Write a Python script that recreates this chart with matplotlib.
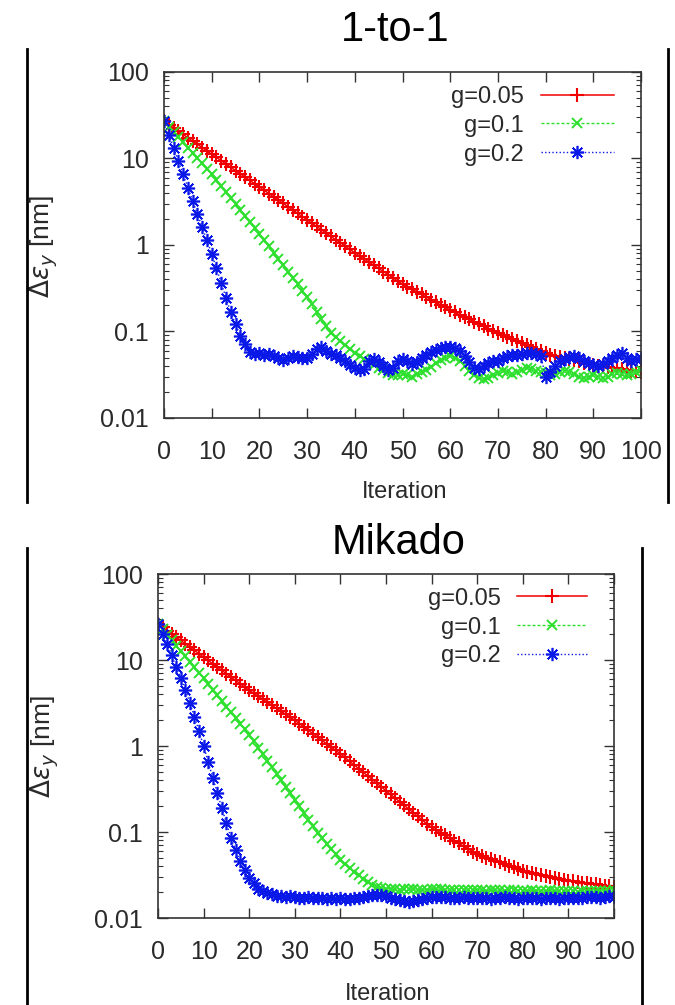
import numpy as np
import matplotlib
matplotlib.use("Agg")
import matplotlib.pyplot as plt
from matplotlib.lines import Line2D
from matplotlib.ticker import FixedLocator, FixedFormatter, LogLocator, NullFormatter

plt.rcParams['font.family'] = ['Liberation Sans', 'DejaVu Sans']
plt.rcParams['mathtext.fontset'] = 'dejavusans'

RED = "#f00000"
GREEN = "#2ee02e"
BLUE = "#0a18e8"
TICK_COL = "#2a2a2a"

# ---- data ----
ITER = list(range(101))
GAINS = ["g=0.05", "g=0.1", "g=0.2"]
X_TICKS = [0, 10, 20, 30, 40, 50, 60, 70, 80, 90, 100]
Y_TICKS = [0.01, 0.1, 1, 10, 100]
Y_TICK_LABELS = ["0.01", "0.1", "1", "10", "100"]

# 1-to-1 panel
one_g005 = [26.9, 24.6, 22.6, 20.7, 19.0, 17.4, 15.9, 14.6, 13.4, 12.2,
            11.2, 10.3, 9.42, 8.63, 7.91, 7.25, 6.64, 6.08, 5.57, 5.11,
            4.68, 4.29, 3.93, 3.60, 3.30, 3.02, 2.77, 2.54, 2.32, 2.13,
            1.95, 1.79, 1.64, 1.50, 1.37, 1.26, 1.15, 1.06, 0.969, 0.888,
            0.813, 0.748, 0.688, 0.633, 0.583, 0.536, 0.493, 0.454, 0.417, 0.384,
            0.353, 0.330, 0.308, 0.287, 0.268, 0.250, 0.233, 0.218, 0.203, 0.190,
            0.177, 0.166, 0.156, 0.147, 0.138, 0.130, 0.122, 0.115, 0.108, 0.101,
            0.095, 0.090, 0.0854, 0.0810, 0.0768, 0.0728, 0.0690, 0.0654, 0.0620, 0.0588,
            0.0557, 0.054, 0.0524, 0.0508, 0.0493, 0.0478, 0.0464, 0.0450, 0.0436, 0.0423,
            0.0410, 0.0403, 0.0395, 0.0388, 0.0381, 0.0374, 0.0367, 0.0360, 0.0354, 0.0347,
            0.0341]
one_g01 = [26.9, 23.4, 20.3, 17.7, 15.4, 13.3, 11.6, 10.1, 8.77, 7.62,
           6.62, 5.65, 4.82, 4.11, 3.51, 2.99, 2.55, 2.18, 1.86, 1.58,
           1.35, 1.14, 0.964, 0.815, 0.688, 0.582, 0.492, 0.415, 0.351, 0.297,
           0.251, 0.207, 0.170, 0.140, 0.116, 0.0953, 0.0857, 0.0770, 0.0692, 0.0622,
           0.0560, 0.0518, 0.0479, 0.0443, 0.0410, 0.0379, 0.0356, 0.0335, 0.0316, 0.031,
           0.032, 0.031, 0.030, 0.032, 0.034, 0.036, 0.039, 0.043, 0.047, 0.050,
           0.052, 0.050, 0.046, 0.040, 0.035, 0.031, 0.029, 0.028, 0.029, 0.031,
           0.033, 0.035, 0.034, 0.032, 0.034, 0.036, 0.038, 0.037, 0.035, 0.034,
           0.033, 0.031, 0.032, 0.034, 0.035, 0.034, 0.032, 0.030, 0.029, 0.030,
           0.031, 0.030, 0.029, 0.030, 0.032, 0.033, 0.032, 0.031, 0.032, 0.034,
           0.036]
one_g02 = [26.9, 18.9, 13.3, 9.35, 6.57, 4.62, 3.25, 2.28, 1.61, 1.13,
           0.794, 0.537, 0.363, 0.245, 0.166, 0.122, 0.0892, 0.0716, 0.0575, 0.055,
           0.056, 0.054, 0.055, 0.052, 0.049, 0.047, 0.050, 0.052, 0.051, 0.049,
           0.050, 0.055, 0.062, 0.066, 0.060, 0.055, 0.053, 0.050, 0.046, 0.041,
           0.038, 0.036, 0.037, 0.045, 0.048, 0.044, 0.040, 0.036, 0.038, 0.046,
           0.048, 0.045, 0.042, 0.044, 0.049, 0.054, 0.058, 0.061, 0.064, 0.066,
           0.066, 0.064, 0.060, 0.052, 0.044, 0.038, 0.037, 0.040, 0.043, 0.045,
           0.046, 0.049, 0.052, 0.054, 0.053, 0.055, 0.057, 0.056, 0.055, 0.052,
           0.030, 0.034, 0.040, 0.045, 0.048, 0.051, 0.052, 0.049, 0.046, 0.043,
           0.041, 0.040, 0.042, 0.046, 0.050, 0.054, 0.056, 0.050, 0.045, 0.048,
           0.050]

# Mikado panel
mik_g005 = [26.3, 24.1, 22.0, 20.1, 18.4, 16.9, 15.4, 14.1, 12.9, 11.8,
            10.8, 9.88, 9.04, 8.27, 7.57, 6.93, 6.34, 5.80, 5.30, 4.85,
            4.44, 4.10, 3.78, 3.49, 3.22, 2.97, 2.74, 2.53, 2.34, 2.16,
            1.99, 1.82, 1.66, 1.52, 1.39, 1.27, 1.16, 1.06, 0.970, 0.887,
            0.811, 0.735, 0.666, 0.603, 0.547, 0.495, 0.449, 0.407, 0.368, 0.334,
            0.302, 0.274, 0.248, 0.225, 0.204, 0.185, 0.167, 0.152, 0.137, 0.124,
            0.113, 0.105, 0.0978, 0.0911, 0.0848, 0.0789, 0.0735, 0.0684, 0.0637, 0.0593,
            0.0552, 0.0528, 0.0505, 0.0484, 0.0463, 0.0443, 0.0424, 0.0406, 0.0388, 0.0372,
            0.0356, 0.0346, 0.0337, 0.0328, 0.0319, 0.0310, 0.0302, 0.0294, 0.0286, 0.0278,
            0.0271, 0.0267, 0.0262, 0.0258, 0.0254, 0.0250, 0.0246, 0.0242, 0.0238, 0.0234,
            0.0231]
mik_g01 = [26.3, 22.7, 19.7, 17.0, 14.7, 12.7, 11.0, 9.50, 8.22, 7.10,
           6.14, 5.26, 4.52, 3.88, 3.33, 2.86, 2.46, 2.11, 1.81, 1.56,
           1.34, 1.13, 0.951, 0.800, 0.673, 0.566, 0.476, 0.400, 0.337, 0.283,
           0.238, 0.199, 0.166, 0.139, 0.116, 0.0973, 0.0844, 0.0731, 0.0634, 0.0550,
           0.0477, 0.0429, 0.0386, 0.0347, 0.0313, 0.0281, 0.0262, 0.0245, 0.0232, 0.0224,
           0.0220, 0.0218, 0.0215, 0.0214, 0.0216, 0.0219, 0.0217, 0.0213, 0.0211, 0.0213,
           0.0216, 0.0218, 0.0215, 0.0212, 0.0210, 0.0212, 0.0214, 0.0211, 0.0209, 0.0211,
           0.0213, 0.0210, 0.0208, 0.0210, 0.0212, 0.0209, 0.0207, 0.0209, 0.0211, 0.0208,
           0.0206, 0.0208, 0.0210, 0.0207, 0.0205, 0.0207, 0.0209, 0.0206, 0.0204, 0.0206,
           0.0208, 0.0205, 0.0203, 0.0205, 0.0207, 0.0204, 0.0206, 0.0208, 0.0205, 0.0207,
           0.0209]
mik_g02 = [26.3, 20.2, 15.5, 11.3, 8.3, 6.1, 4.5, 3.15, 2.2, 1.48,
           1.0, 0.655, 0.43, 0.286, 0.19, 0.127, 0.085, 0.0625, 0.046, 0.0365,
           0.029, 0.0252, 0.022, 0.0205, 0.0195, 0.0188, 0.0182, 0.0178, 0.0176, 0.0179,
           0.0177, 0.0173, 0.0171, 0.0174, 0.0172, 0.0169, 0.0171, 0.0168, 0.0170, 0.0167,
           0.0169, 0.0166, 0.0168, 0.0170, 0.0172, 0.0175, 0.0180, 0.0184, 0.0186, 0.0183,
           0.0178, 0.0172, 0.0166, 0.0161, 0.0157, 0.0155, 0.0158, 0.0163, 0.0168, 0.0172,
           0.0175, 0.0177, 0.0176, 0.0174, 0.0172, 0.0170, 0.0172, 0.0174, 0.0171, 0.0169,
           0.0171, 0.0173, 0.0170, 0.0168, 0.0170, 0.0172, 0.0174, 0.0171, 0.0169, 0.0167,
           0.0169, 0.0171, 0.0173, 0.0170, 0.0168, 0.0170, 0.0172, 0.0169, 0.0167, 0.0169,
           0.0171, 0.0173, 0.0170, 0.0172, 0.0175, 0.0177, 0.0174, 0.0172, 0.0175, 0.0178,
           0.0176]

STYLES = [
    dict(color=RED, ls="-", lw=1.1, marker="+", ms=9.5, mew=1.5),
    dict(color=GREEN, ls=(0, (2.2, 1.4)), lw=1.0, marker="x", ms=7.5, mew=1.4),
    dict(color=BLUE, ls=(0, (1, 1.6)), lw=1.0, marker=(8, 2, 0), ms=9.5, mew=1.2),
]


def panel(ax, series, handle_len, anchor, ylab_xy, xlab_xy):
    for vals, label, st in zip(series, GAINS, STYLES):
        ax.plot(ITER, vals, label=label, **st)
    ax.set_yscale("log")
    ax.set_xlim(0, 100)
    ax.set_ylim(0.01, 100)
    ax.xaxis.set_major_locator(FixedLocator(X_TICKS))
    ax.yaxis.set_major_locator(FixedLocator(Y_TICKS))
    ax.yaxis.set_major_formatter(FixedFormatter(Y_TICK_LABELS))
    ax.yaxis.set_minor_locator(LogLocator(base=10, subs=np.arange(2, 10)))
    ax.yaxis.set_minor_formatter(NullFormatter())
    ax.tick_params(which="both", direction="in", top=True, right=True,
                   colors="#333333", labelcolor=TICK_COL, labelsize=18)
    ax.tick_params(which="major", length=7, width=1.0)
    ax.tick_params(which="minor", length=3.5, width=0.8)
    ax.tick_params(axis="x", pad=16)
    ax.tick_params(axis="y", pad=11)
    for sp in ax.spines.values():
        sp.set_color("#333333")
        sp.set_linewidth(1.2)
    ax.set_ylabel(r"$\Delta\varepsilon_y$ [nm]", fontsize=19, color=TICK_COL)
    ax.yaxis.set_label_coords(*ylab_xy)
    ax.set_xlabel("Iteration", fontsize=17, color=TICK_COL)
    ax.xaxis.set_label_coords(*xlab_xy)
    ax.legend(loc="upper right", bbox_to_anchor=anchor, frameon=False,
              markerfirst=False, numpoints=1, fontsize=17,
              handlelength=handle_len, handletextpad=0.7, labelspacing=0.29,
              borderpad=0, borderaxespad=0, labelcolor=TICK_COL)


fig = plt.figure(figsize=(6.75, 10.05), dpi=100)
W, H = 675.0, 1005.0

ax1 = fig.add_axes([164 / W, 1 - 418 / H, 477 / W, 346 / H])
panel(ax1, [one_g005, one_g01, one_g02], 3.1, (0.943, 0.96),
      (-0.218, 0.494), (0.504, -0.182))

ax2 = fig.add_axes([158 / W, 1 - 918 / H, 456 / W, 344 / H])
panel(ax2, [mik_g005, mik_g01, mik_g02], 2.95, (0.94, 0.96),
      (-0.213, 0.497), (0.504, -0.189))

fig.text(395 / W, 1 - 30 / H, "1-to-1", ha="center", va="center", fontsize=30)
fig.text(399 / W, 1 - 543 / H, "Mikado", ha="center", va="center", fontsize=30)

# slide frame lines
for x, y0, y1 in [(27, 49, 502), (668, 49, 502), (27, 548, 1005), (642, 548, 1005)]:
    fig.add_artist(Line2D([x / W, x / W], [1 - y0 / H, 1 - y1 / H],
                          color="black", lw=2.0))

fig.savefig("out.png", dpi=100, facecolor="white")
